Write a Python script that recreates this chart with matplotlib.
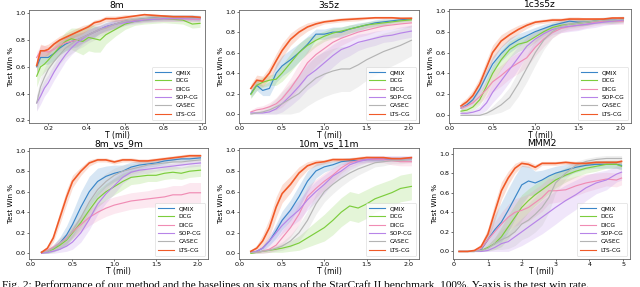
import matplotlib
matplotlib.use("Agg")
import matplotlib.pyplot as plt
import numpy as np

methods = ["QMIX", "DCG", "DICG", "SOP-CG", "CASEC", "LTS-CG"]
colors = ["#3a86c8", "#7ccd3c", "#f08cb4", "#b784e8", "#b4b4b4", "#f05a28"]

# ---------------- 8m ----------------
x_8m = [0.14, 0.16, 0.18, 0.20, 0.23, 0.26, 0.29, 0.32, 0.35, 0.38, 0.41, 0.44, 0.47, 0.50, 0.55, 0.60, 0.65, 0.70, 0.75, 0.80, 0.85, 0.90, 0.95, 0.99]
qmix_8m = [0.60, 0.67, 0.67, 0.67, 0.70, 0.74, 0.77, 0.79, 0.80, 0.82, 0.84, 0.86, 0.88, 0.90, 0.92, 0.94, 0.95, 0.96, 0.965, 0.97, 0.97, 0.97, 0.97, 0.965]
dcg_8m = [0.53, 0.60, 0.62, 0.65, 0.70, 0.75, 0.79, 0.81, 0.80, 0.79, 0.82, 0.81, 0.80, 0.84, 0.88, 0.92, 0.94, 0.95, 0.955, 0.96, 0.955, 0.95, 0.92, 0.925]
dicg_8m = [0.67, 0.72, 0.72, 0.71, 0.73, 0.76, 0.78, 0.79, 0.80, 0.82, 0.84, 0.86, 0.88, 0.89, 0.92, 0.94, 0.95, 0.955, 0.96, 0.96, 0.96, 0.96, 0.955, 0.955]
sop_8m = [0.33, 0.38, 0.44, 0.48, 0.56, 0.63, 0.69, 0.74, 0.78, 0.81, 0.84, 0.86, 0.88, 0.90, 0.92, 0.93, 0.94, 0.95, 0.955, 0.96, 0.96, 0.96, 0.96, 0.96]
casec_8m = [0.33, 0.45, 0.52, 0.58, 0.64, 0.69, 0.74, 0.77, 0.80, 0.82, 0.84, 0.86, 0.88, 0.89, 0.92, 0.94, 0.955, 0.96, 0.965, 0.97, 0.97, 0.97, 0.965, 0.965]
lts_8m = [0.61, 0.72, 0.72, 0.73, 0.77, 0.80, 0.82, 0.84, 0.86, 0.88, 0.90, 0.93, 0.94, 0.96, 0.96, 0.97, 0.98, 0.99, 0.985, 0.98, 0.975, 0.975, 0.975, 0.97]
qmix_8m_sd = [0.05, 0.05, 0.05, 0.05, 0.05, 0.05, 0.05, 0.05, 0.05, 0.04, 0.04, 0.04, 0.03, 0.03, 0.03, 0.02, 0.02, 0.02, 0.02, 0.02, 0.02, 0.02, 0.02, 0.02]
dcg_8m_sd = [0.08, 0.07, 0.06, 0.06, 0.06, 0.06, 0.07, 0.08, 0.09, 0.10, 0.10, 0.10, 0.09, 0.07, 0.05, 0.04, 0.03, 0.03, 0.03, 0.03, 0.03, 0.03, 0.03, 0.03]
dicg_8m_sd = [0.04, 0.04, 0.04, 0.04, 0.04, 0.04, 0.04, 0.04, 0.04, 0.04, 0.04, 0.03, 0.03, 0.03, 0.03, 0.02, 0.02, 0.02, 0.02, 0.02, 0.02, 0.02, 0.02, 0.02]
sop_8m_sd = [0.06, 0.06, 0.06, 0.06, 0.06, 0.06, 0.05, 0.05, 0.05, 0.04, 0.04, 0.04, 0.03, 0.03, 0.03, 0.02, 0.02, 0.02, 0.02, 0.02, 0.02, 0.02, 0.02, 0.02]
casec_8m_sd = [0.06, 0.07, 0.07, 0.07, 0.07, 0.07, 0.07, 0.07, 0.07, 0.07, 0.06, 0.06, 0.05, 0.05, 0.04, 0.03, 0.02, 0.02, 0.02, 0.02, 0.02, 0.02, 0.02, 0.02]
lts_8m_sd = [0.05, 0.05, 0.04, 0.04, 0.03, 0.03, 0.03, 0.03, 0.03, 0.03, 0.02, 0.02, 0.02, 0.02, 0.02, 0.02, 0.01, 0.01, 0.01, 0.01, 0.01, 0.01, 0.01, 0.01]

# ---------------- 3s5z ----------------
x_3s5z = [0.13, 0.2, 0.27, 0.35, 0.43, 0.5, 0.6, 0.7, 0.8, 0.9, 1.0, 1.1, 1.2, 1.3, 1.4, 1.5, 1.6, 1.7, 1.8, 1.9, 2.03]
qmix_3s5z = [0.20, 0.28, 0.23, 0.25, 0.40, 0.47, 0.53, 0.60, 0.68, 0.78, 0.78, 0.80, 0.80, 0.83, 0.85, 0.87, 0.89, 0.90, 0.91, 0.92, 0.93]
dcg_3s5z = [0.19, 0.28, 0.31, 0.33, 0.34, 0.40, 0.50, 0.60, 0.67, 0.72, 0.76, 0.79, 0.81, 0.83, 0.85, 0.87, 0.88, 0.89, 0.90, 0.91, 0.92]
dicg_3s5z = [0.02, 0.04, 0.05, 0.07, 0.10, 0.15, 0.25, 0.37, 0.50, 0.58, 0.64, 0.70, 0.74, 0.77, 0.80, 0.82, 0.84, 0.86, 0.87, 0.88, 0.89]
sop_3s5z = [0.01, 0.01, 0.01, 0.02, 0.05, 0.10, 0.18, 0.27, 0.37, 0.43, 0.50, 0.57, 0.63, 0.66, 0.70, 0.72, 0.74, 0.76, 0.77, 0.79, 0.81]
casec_3s5z = [0.00, 0.01, 0.02, 0.04, 0.07, 0.10, 0.15, 0.20, 0.28, 0.35, 0.39, 0.42, 0.44, 0.44, 0.48, 0.53, 0.57, 0.61, 0.64, 0.67, 0.72]
lts_3s5z = [0.25, 0.33, 0.32, 0.40, 0.52, 0.62, 0.73, 0.80, 0.85, 0.88, 0.90, 0.91, 0.92, 0.925, 0.93, 0.935, 0.94, 0.94, 0.94, 0.935, 0.935]
qmix_3s5z_sd = [0.04, 0.05, 0.05, 0.07, 0.09, 0.10, 0.10, 0.09, 0.08, 0.05, 0.05, 0.05, 0.05, 0.04, 0.04, 0.03, 0.03, 0.03, 0.02, 0.02, 0.02]
dcg_3s5z_sd = [0.04, 0.05, 0.05, 0.05, 0.06, 0.08, 0.09, 0.09, 0.08, 0.06, 0.05, 0.05, 0.04, 0.04, 0.03, 0.03, 0.03, 0.03, 0.02, 0.02, 0.02]
dicg_3s5z_sd = [0.02, 0.03, 0.03, 0.04, 0.06, 0.08, 0.10, 0.12, 0.12, 0.11, 0.10, 0.08, 0.07, 0.06, 0.05, 0.05, 0.04, 0.04, 0.04, 0.04, 0.04]
sop_3s5z_sd = [0.01, 0.01, 0.02, 0.03, 0.05, 0.08, 0.10, 0.12, 0.13, 0.13, 0.12, 0.11, 0.10, 0.09, 0.08, 0.07, 0.07, 0.06, 0.06, 0.06, 0.06]
casec_3s5z_sd = [0.01, 0.02, 0.03, 0.05, 0.08, 0.12, 0.15, 0.18, 0.20, 0.22, 0.22, 0.22, 0.22, 0.22, 0.21, 0.20, 0.19, 0.18, 0.17, 0.16, 0.15]
lts_3s5z_sd = [0.04, 0.05, 0.05, 0.06, 0.07, 0.07, 0.06, 0.05, 0.04, 0.03, 0.02, 0.02, 0.02, 0.02, 0.02, 0.01, 0.01, 0.01, 0.01, 0.01, 0.01]

# ---------------- 1c3s5z ----------------
x_1c3s5z = [0.13, 0.2, 0.27, 0.35, 0.43, 0.5, 0.6, 0.7, 0.8, 0.9, 1.0, 1.1, 1.2, 1.3, 1.4, 1.5, 1.6, 1.7, 1.8, 1.9, 2.03]
qmix_1c3s5z = [0.07, 0.10, 0.15, 0.25, 0.38, 0.49, 0.59, 0.67, 0.72, 0.76, 0.80, 0.83, 0.86, 0.88, 0.90, 0.89, 0.89, 0.90, 0.91, 0.91, 0.92]
dcg_1c3s5z = [0.04, 0.05, 0.08, 0.15, 0.28, 0.40, 0.53, 0.63, 0.68, 0.70, 0.75, 0.80, 0.84, 0.86, 0.87, 0.88, 0.89, 0.90, 0.90, 0.90, 0.91]
dicg_1c3s5z = [0.07, 0.09, 0.12, 0.18, 0.25, 0.32, 0.38, 0.45, 0.50, 0.55, 0.65, 0.73, 0.79, 0.83, 0.85, 0.86, 0.87, 0.89, 0.90, 0.90, 0.90]
sop_1c3s5z = [0.02, 0.02, 0.03, 0.05, 0.12, 0.22, 0.33, 0.44, 0.55, 0.66, 0.73, 0.78, 0.82, 0.84, 0.85, 0.86, 0.87, 0.88, 0.89, 0.90, 0.91]
casec_1c3s5z = [0.00, 0.00, 0.00, 0.00, 0.02, 0.05, 0.10, 0.17, 0.30, 0.45, 0.60, 0.72, 0.80, 0.85, 0.87, 0.88, 0.89, 0.90, 0.91, 0.91, 0.92]
lts_1c3s5z = [0.09, 0.13, 0.19, 0.30, 0.46, 0.60, 0.71, 0.77, 0.82, 0.86, 0.89, 0.90, 0.91, 0.91, 0.92, 0.92, 0.92, 0.92, 0.92, 0.93, 0.93]
qmix_1c3s5z_sd = [0.02, 0.03, 0.04, 0.05, 0.06, 0.07, 0.07, 0.07, 0.06, 0.05, 0.04, 0.04, 0.03, 0.03, 0.03, 0.03, 0.03, 0.02, 0.02, 0.02, 0.02]
dcg_1c3s5z_sd = [0.02, 0.02, 0.03, 0.05, 0.07, 0.08, 0.09, 0.08, 0.07, 0.06, 0.05, 0.04, 0.04, 0.03, 0.03, 0.03, 0.03, 0.02, 0.02, 0.02, 0.02]
dicg_1c3s5z_sd = [0.02, 0.03, 0.04, 0.06, 0.08, 0.10, 0.10, 0.10, 0.10, 0.09, 0.08, 0.07, 0.05, 0.04, 0.04, 0.04, 0.03, 0.03, 0.03, 0.03, 0.03]
sop_1c3s5z_sd = [0.01, 0.02, 0.02, 0.04, 0.07, 0.10, 0.12, 0.12, 0.11, 0.09, 0.07, 0.06, 0.05, 0.05, 0.05, 0.05, 0.04, 0.04, 0.03, 0.03, 0.03]
casec_1c3s5z_sd = [0.01, 0.01, 0.01, 0.01, 0.02, 0.04, 0.07, 0.10, 0.12, 0.13, 0.12, 0.09, 0.06, 0.05, 0.04, 0.04, 0.03, 0.03, 0.03, 0.03, 0.03]
lts_1c3s5z_sd = [0.03, 0.04, 0.05, 0.06, 0.07, 0.07, 0.06, 0.05, 0.04, 0.03, 0.02, 0.02, 0.02, 0.02, 0.02, 0.02, 0.01, 0.01, 0.01, 0.01, 0.01]

# ---------------- 8m_vs_9m ----------------
x_8m9m = [0.13, 0.2, 0.27, 0.35, 0.43, 0.5, 0.6, 0.7, 0.8, 0.9, 1.0, 1.1, 1.2, 1.3, 1.4, 1.5, 1.6, 1.7, 1.8, 1.9, 2.03]
qmix_8m9m = [0.01, 0.02, 0.05, 0.10, 0.18, 0.28, 0.45, 0.60, 0.70, 0.75, 0.78, 0.80, 0.84, 0.86, 0.87, 0.88, 0.90, 0.91, 0.92, 0.92, 0.93]
dcg_8m9m = [0.01, 0.02, 0.04, 0.08, 0.13, 0.20, 0.30, 0.42, 0.53, 0.60, 0.65, 0.70, 0.74, 0.75, 0.76, 0.76, 0.78, 0.79, 0.78, 0.80, 0.81]
dicg_8m9m = [0.01, 0.03, 0.06, 0.10, 0.15, 0.21, 0.28, 0.35, 0.40, 0.44, 0.47, 0.49, 0.51, 0.52, 0.53, 0.54, 0.55, 0.57, 0.57, 0.59, 0.59]
sop_8m9m = [0.00, 0.01, 0.02, 0.04, 0.07, 0.11, 0.20, 0.33, 0.48, 0.58, 0.66, 0.74, 0.79, 0.81, 0.82, 0.83, 0.84, 0.85, 0.86, 0.87, 0.88]
casec_8m9m = [0.01, 0.02, 0.05, 0.10, 0.14, 0.22, 0.35, 0.50, 0.62, 0.70, 0.76, 0.80, 0.82, 0.84, 0.86, 0.87, 0.88, 0.89, 0.89, 0.90, 0.91]
lts_8m9m = [0.01, 0.05, 0.15, 0.35, 0.55, 0.70, 0.80, 0.88, 0.91, 0.91, 0.89, 0.91, 0.91, 0.90, 0.90, 0.91, 0.92, 0.93, 0.94, 0.95, 0.95]
qmix_8m9m_sd = [0.01, 0.02, 0.03, 0.06, 0.09, 0.12, 0.15, 0.15, 0.13, 0.10, 0.08, 0.06, 0.05, 0.04, 0.03, 0.03, 0.03, 0.02, 0.02, 0.02, 0.02]
dcg_8m9m_sd = [0.01, 0.02, 0.03, 0.04, 0.05, 0.06, 0.07, 0.08, 0.08, 0.08, 0.08, 0.08, 0.07, 0.07, 0.06, 0.06, 0.06, 0.06, 0.06, 0.06, 0.06]
dicg_8m9m_sd = [0.01, 0.02, 0.03, 0.04, 0.05, 0.06, 0.07, 0.08, 0.08, 0.08, 0.08, 0.08, 0.08, 0.08, 0.08, 0.09, 0.09, 0.09, 0.09, 0.10, 0.10]
sop_8m9m_sd = [0.01, 0.01, 0.02, 0.03, 0.05, 0.07, 0.09, 0.10, 0.10, 0.09, 0.08, 0.06, 0.05, 0.04, 0.04, 0.03, 0.03, 0.03, 0.03, 0.03, 0.03]
casec_8m9m_sd = [0.01, 0.02, 0.03, 0.05, 0.06, 0.07, 0.09, 0.10, 0.09, 0.08, 0.07, 0.06, 0.05, 0.05, 0.04, 0.04, 0.04, 0.03, 0.03, 0.03, 0.03]
lts_8m9m_sd = [0.01, 0.02, 0.04, 0.06, 0.07, 0.06, 0.04, 0.03, 0.02, 0.02, 0.02, 0.02, 0.02, 0.02, 0.02, 0.02, 0.02, 0.02, 0.02, 0.02, 0.02]

# ---------------- 10m_vs_11m ----------------
x_10m11m = [0.13, 0.2, 0.27, 0.35, 0.43, 0.5, 0.6, 0.7, 0.8, 0.9, 1.0, 1.1, 1.2, 1.3, 1.4, 1.5, 1.6, 1.7, 1.8, 1.9, 2.03]
qmix_10m11m = [0.01, 0.02, 0.05, 0.12, 0.22, 0.32, 0.42, 0.55, 0.70, 0.80, 0.84, 0.86, 0.89, 0.90, 0.90, 0.91, 0.91, 0.91, 0.92, 0.92, 0.92]
dcg_10m11m = [0.00, 0.01, 0.02, 0.03, 0.04, 0.05, 0.07, 0.10, 0.15, 0.20, 0.25, 0.32, 0.40, 0.46, 0.44, 0.48, 0.53, 0.56, 0.59, 0.63, 0.65]
dicg_10m11m = [0.01, 0.01, 0.02, 0.04, 0.08, 0.15, 0.25, 0.38, 0.55, 0.63, 0.70, 0.76, 0.83, 0.88, 0.90, 0.91, 0.91, 0.91, 0.90, 0.89, 0.89]
sop_10m11m = [0.01, 0.02, 0.05, 0.12, 0.20, 0.27, 0.35, 0.42, 0.52, 0.60, 0.67, 0.75, 0.80, 0.86, 0.89, 0.91, 0.92, 0.92, 0.92, 0.92, 0.92]
casec_10m11m = [0.01, 0.01, 0.02, 0.03, 0.05, 0.07, 0.12, 0.20, 0.32, 0.48, 0.60, 0.67, 0.73, 0.78, 0.82, 0.85, 0.88, 0.89, 0.90, 0.90, 0.91]
lts_10m11m = [0.02, 0.05, 0.12, 0.25, 0.45, 0.58, 0.67, 0.78, 0.85, 0.88, 0.89, 0.91, 0.91, 0.91, 0.92, 0.93, 0.93, 0.93, 0.92, 0.92, 0.93]
qmix_10m11m_sd = [0.01, 0.01, 0.02, 0.04, 0.07, 0.09, 0.10, 0.11, 0.10, 0.07, 0.05, 0.04, 0.03, 0.03, 0.02, 0.02, 0.02, 0.02, 0.02, 0.02, 0.02]
dcg_10m11m_sd = [0.00, 0.01, 0.01, 0.02, 0.03, 0.04, 0.05, 0.07, 0.09, 0.11, 0.13, 0.14, 0.14, 0.14, 0.14, 0.14, 0.13, 0.13, 0.13, 0.13, 0.13]
dicg_10m11m_sd = [0.01, 0.01, 0.02, 0.03, 0.05, 0.07, 0.09, 0.10, 0.10, 0.09, 0.08, 0.07, 0.05, 0.04, 0.03, 0.03, 0.03, 0.03, 0.04, 0.04, 0.04]
sop_10m11m_sd = [0.01, 0.01, 0.03, 0.05, 0.07, 0.08, 0.09, 0.10, 0.10, 0.10, 0.09, 0.07, 0.06, 0.05, 0.04, 0.03, 0.03, 0.03, 0.03, 0.03, 0.03]
casec_10m11m_sd = [0.01, 0.01, 0.02, 0.02, 0.03, 0.04, 0.06, 0.08, 0.09, 0.10, 0.10, 0.09, 0.08, 0.07, 0.06, 0.05, 0.04, 0.04, 0.03, 0.03, 0.03]
lts_10m11m_sd = [0.01, 0.03, 0.06, 0.09, 0.10, 0.09, 0.08, 0.06, 0.04, 0.03, 0.02, 0.02, 0.02, 0.02, 0.02, 0.02, 0.01, 0.01, 0.01, 0.01, 0.01]

# ---------------- MMM2 ----------------
x_mmm2 = [0.15, 0.4, 0.6, 0.8, 1.0, 1.2, 1.4, 1.6, 1.8, 2.0, 2.2, 2.4, 2.6, 2.8, 3.0, 3.3, 3.6, 3.9, 4.2, 4.5, 4.8, 4.95]
qmix_mmm2 = [0.0, 0.0, 0.0, 0.02, 0.12, 0.22, 0.30, 0.42, 0.55, 0.68, 0.72, 0.70, 0.73, 0.77, 0.80, 0.83, 0.86, 0.88, 0.89, 0.89, 0.89, 0.88]
dcg_mmm2 = [0.0, 0.0, 0.0, 0.01, 0.04, 0.08, 0.15, 0.25, 0.35, 0.45, 0.52, 0.58, 0.63, 0.68, 0.73, 0.78, 0.82, 0.85, 0.87, 0.89, 0.89, 0.87]
dicg_mmm2 = [0.0, 0.0, 0.0, 0.03, 0.12, 0.20, 0.28, 0.35, 0.40, 0.42, 0.45, 0.50, 0.55, 0.62, 0.62, 0.63, 0.67, 0.70, 0.72, 0.74, 0.73, 0.75]
sop_mmm2 = [0.0, 0.0, 0.0, 0.0, 0.01, 0.04, 0.08, 0.10, 0.15, 0.20, 0.25, 0.30, 0.35, 0.40, 0.45, 0.52, 0.58, 0.65, 0.70, 0.73, 0.79, 0.81]
casec_mmm2 = [0.0, 0.0, 0.0, 0.01, 0.03, 0.08, 0.12, 0.15, 0.20, 0.28, 0.32, 0.38, 0.45, 0.55, 0.70, 0.80, 0.88, 0.92, 0.94, 0.95, 0.95, 0.95]
lts_mmm2 = [0.0, 0.0, 0.01, 0.05, 0.175, 0.40, 0.62, 0.75, 0.85, 0.90, 0.89, 0.86, 0.90, 0.90, 0.90, 0.91, 0.90, 0.90, 0.91, 0.91, 0.91, 0.92]
qmix_mmm2_sd = [0.0, 0.0, 0.0, 0.02, 0.08, 0.15, 0.20, 0.22, 0.22, 0.20, 0.15, 0.12, 0.10, 0.08, 0.07, 0.06, 0.05, 0.04, 0.04, 0.04, 0.04, 0.04]
dcg_mmm2_sd = [0.0, 0.0, 0.0, 0.01, 0.03, 0.06, 0.10, 0.12, 0.13, 0.13, 0.12, 0.11, 0.10, 0.09, 0.08, 0.07, 0.06, 0.05, 0.05, 0.04, 0.04, 0.04]
dicg_mmm2_sd = [0.0, 0.0, 0.0, 0.02, 0.06, 0.10, 0.12, 0.13, 0.14, 0.14, 0.14, 0.14, 0.14, 0.13, 0.12, 0.11, 0.10, 0.09, 0.08, 0.07, 0.07, 0.07]
sop_mmm2_sd = [0.0, 0.0, 0.0, 0.01, 0.02, 0.05, 0.08, 0.10, 0.12, 0.14, 0.15, 0.16, 0.17, 0.17, 0.17, 0.16, 0.15, 0.13, 0.11, 0.10, 0.08, 0.08]
casec_mmm2_sd = [0.0, 0.0, 0.0, 0.01, 0.03, 0.06, 0.10, 0.12, 0.14, 0.16, 0.17, 0.18, 0.18, 0.15, 0.10, 0.06, 0.04, 0.03, 0.03, 0.03, 0.03, 0.03]
lts_mmm2_sd = [0.0, 0.0, 0.01, 0.03, 0.06, 0.09, 0.09, 0.07, 0.05, 0.03, 0.03, 0.03, 0.02, 0.02, 0.02, 0.02, 0.02, 0.02, 0.02, 0.02, 0.02, 0.02]

caption = ("Fig. 2: Performance of our method and the baselines on six maps of the StarCraft II benchmark, "
           "100%. Y-axis is the test win rate.")

panels = [
    dict(title="8m", x=x_8m,
         ys=[qmix_8m, dcg_8m, dicg_8m, sop_8m, casec_8m, lts_8m],
         sds=[qmix_8m_sd, dcg_8m_sd, dicg_8m_sd, sop_8m_sd, casec_8m_sd, lts_8m_sd],
         rect=(29, 10, 205, 123), xlim=(0.1, 1.016), ylim=(0.18, 1.025),
         xticks=[0.2, 0.4, 0.6, 0.8, 1.0], yticks=[0.2, 0.4, 0.6, 0.8, 1.0]),
    dict(title="3s5z", x=x_3s5z,
         ys=[qmix_3s5z, dcg_3s5z, dicg_3s5z, sop_3s5z, casec_3s5z, lts_3s5z],
         sds=[qmix_3s5z_sd, dcg_3s5z_sd, dicg_3s5z_sd, sop_3s5z_sd, casec_3s5z_sd, lts_3s5z_sd],
         rect=(239, 10, 419, 123), xlim=(-0.01, 2.12), ylim=(-0.088, 1.016),
         xticks=[0.0, 0.5, 1.0, 1.5, 2.0], yticks=[0.0, 0.2, 0.4, 0.6, 0.8, 1.0]),
    dict(title="1c3s5z", x=x_1c3s5z,
         ys=[qmix_1c3s5z, dcg_1c3s5z, dicg_1c3s5z, sop_1c3s5z, casec_1c3s5z, lts_1c3s5z],
         sds=[qmix_1c3s5z_sd, dcg_1c3s5z_sd, dicg_1c3s5z_sd, sop_1c3s5z_sd, casec_1c3s5z_sd, lts_1c3s5z_sd],
         rect=(449, 9, 631, 123), xlim=(-0.01, 2.12), ylim=(-0.073, 1.016),
         xticks=[0.0, 0.5, 1.0, 1.5, 2.0], yticks=[0.0, 0.2, 0.4, 0.6, 0.8, 1.0]),
    dict(title="8m_vs_9m", x=x_8m9m,
         ys=[qmix_8m9m, dcg_8m9m, dicg_8m9m, sop_8m9m, casec_8m9m, lts_8m9m],
         sds=[qmix_8m9m_sd, dcg_8m9m_sd, dicg_8m9m_sd, sop_8m9m_sd, casec_8m9m_sd, lts_8m9m_sd],
         rect=(29, 148, 208, 259), xlim=(-0.02, 2.12), ylim=(-0.055, 1.026),
         xticks=[0.0, 0.5, 1.0, 1.5, 2.0], yticks=[0.0, 0.2, 0.4, 0.6, 0.8, 1.0]),
    dict(title="10m_vs_11m", x=x_10m11m,
         ys=[qmix_10m11m, dcg_10m11m, dicg_10m11m, sop_10m11m, casec_10m11m, lts_10m11m],
         sds=[qmix_10m11m_sd, dcg_10m11m_sd, dicg_10m11m_sd, sop_10m11m_sd, casec_10m11m_sd, lts_10m11m_sd],
         rect=(239, 148, 419, 259), xlim=(-0.01, 2.12), ylim=(-0.055, 1.023),
         xticks=[0.0, 0.5, 1.0, 1.5, 2.0], yticks=[0.0, 0.2, 0.4, 0.6, 0.8, 1.0]),
    dict(title="MMM2", x=x_mmm2,
         ys=[qmix_mmm2, dcg_mmm2, dicg_mmm2, sop_mmm2, casec_mmm2, lts_mmm2],
         sds=[qmix_mmm2_sd, dcg_mmm2_sd, dicg_mmm2_sd, sop_mmm2_sd, casec_mmm2_sd, lts_mmm2_sd],
         rect=(453, 148, 630, 259), xlim=(-0.03, 5.2), ylim=(-0.077, 1.057),
         xticks=[0, 1, 2, 3, 4, 5], yticks=[0.0, 0.2, 0.4, 0.6, 0.8, 1.0]),
]

W, H = 640, 287
fig = plt.figure(figsize=(W / 100, H / 100), dpi=100)
plt.rcParams['font.family'] = ['DejaVu Sans']

for p in panels:
    l, t, r, b = p["rect"]
    ax = fig.add_axes([l / W, 1 - b / H, (r - l) / W, (b - t) / H])
    x = np.array(p["x"])
    for name, c, y, sd in zip(methods, colors, p["ys"], p["sds"]):
        y = np.array(y)
        sd = np.array(sd)
        lw = 1.2 if name == "LTS-CG" else 0.85
        ax.fill_between(x, np.clip(y - sd, 0, 1), np.clip(y + sd, 0, 1), color=c, alpha=0.2, lw=0)
        ax.plot(x, y, color=c, lw=lw, label=name, zorder=3 if name == "LTS-CG" else 2)
    ax.set_xlim(*p["xlim"])
    ax.set_ylim(*p["ylim"])
    ax.set_xticks(p["xticks"])
    ax.set_yticks(p["yticks"])
    ax.set_xticklabels([f"{v:.1f}" if isinstance(v, float) else str(v) for v in p["xticks"]])
    ax.set_yticklabels([f"{v:.1f}" for v in p["yticks"]])
    ax.tick_params(labelsize=4.6, length=1.5, width=0.4, pad=0.8)
    for s in ax.spines.values():
        s.set_color("#666666")
        s.set_linewidth(0.6)
    ax.set_title(p["title"], fontsize=6.6, pad=1.2)
    ax.set_xlabel("T (mil)", fontsize=5.5, labelpad=0)
    ax.set_ylabel("Test Win %", fontsize=5.2, labelpad=1)
    leg = ax.legend(loc="lower right", fontsize=4.2, frameon=True, handlelength=2.6,
                    borderpad=0.6, labelspacing=0.55, handletextpad=0.9, borderaxespad=0.5)
    leg.get_frame().set_linewidth(0.4)
    for line in leg.get_lines():
        line.set_linewidth(0.8)

fig.text(0.003, 1 - 280.5 / H, caption, fontsize=8.2, family="Liberation Serif", va="top", ha="left")

fig.savefig("out.png", dpi=100)
